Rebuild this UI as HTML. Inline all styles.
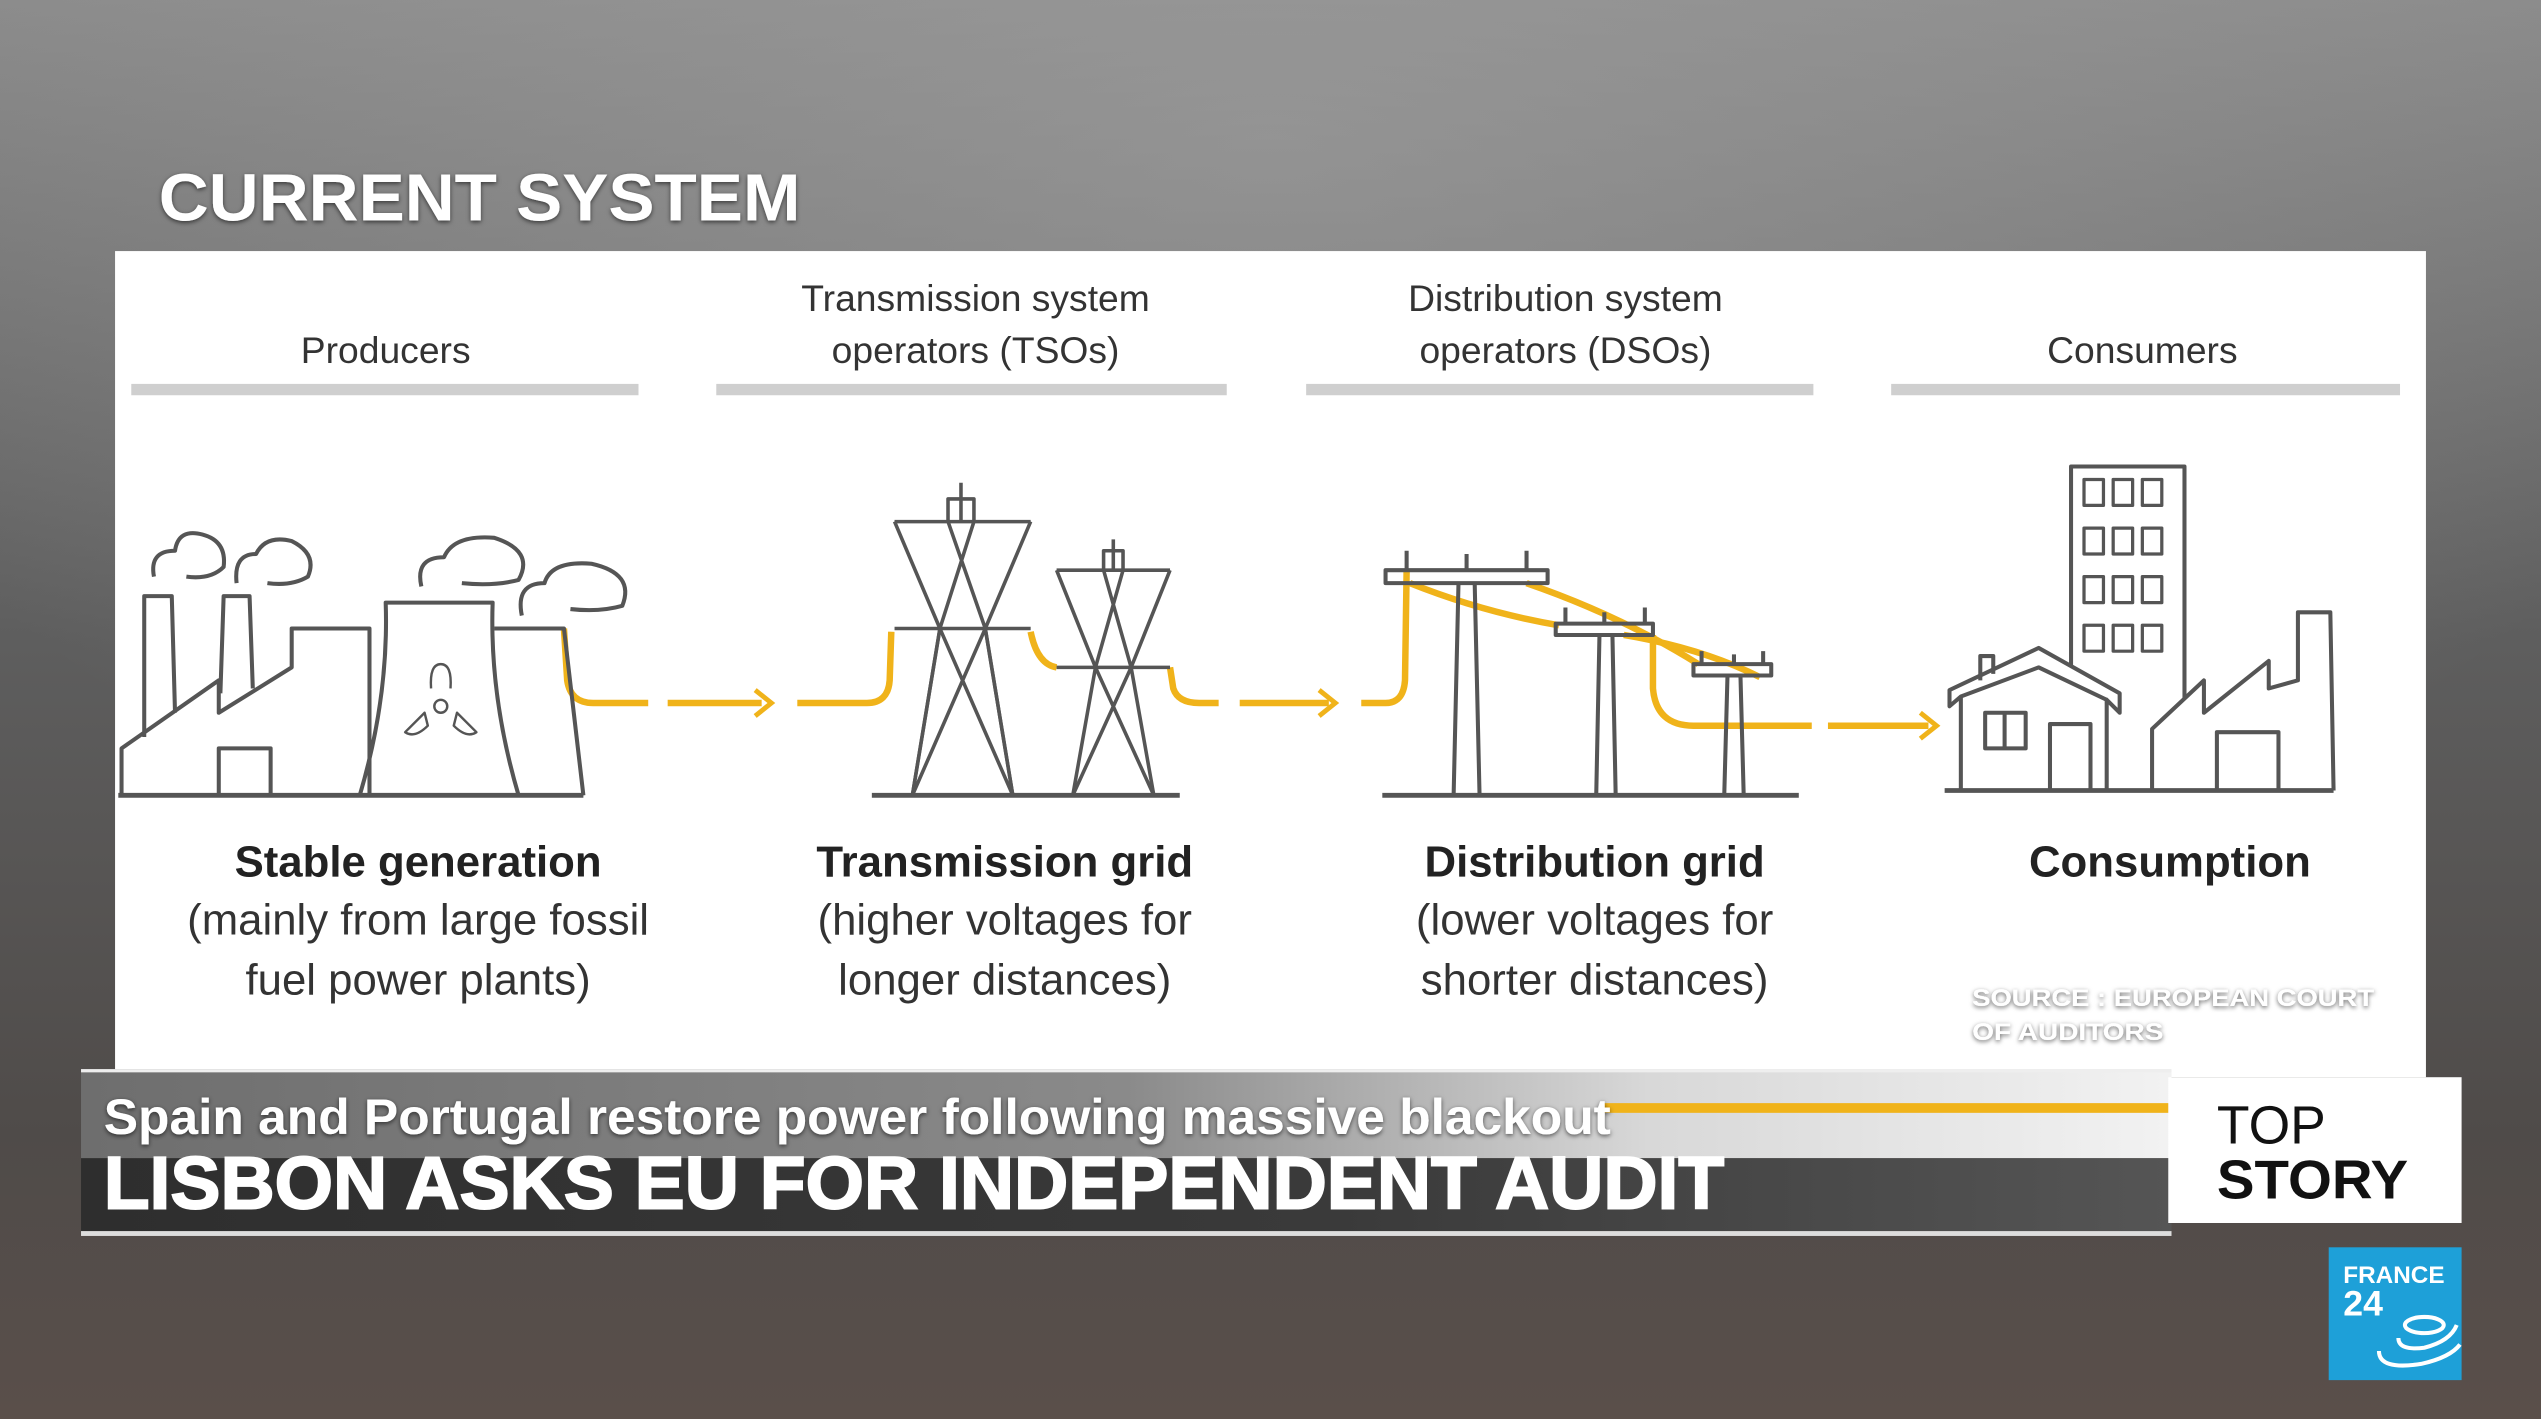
<!DOCTYPE html>
<html><head><meta charset="utf-8"><style>
html,body{margin:0;padding:0;width:2541px;height:1419px;overflow:hidden;background:#666}
svg{display:block}
</style></head><body>
<svg width="2541" height="1419" viewBox="0 0 1568 876" preserveAspectRatio="none" xmlns="http://www.w3.org/2000/svg" font-family="Liberation Sans, sans-serif">
<defs>
<linearGradient id="bg" x1="0" y1="0" x2="0" y2="1">
<stop offset="0" stop-color="#8a8a8a"/><stop offset="0.45" stop-color="#5e5e5e"/><stop offset="0.8" stop-color="#4f4b49"/><stop offset="1" stop-color="#5a4f4a"/>
</linearGradient>
<radialGradient id="glow" cx="0.5" cy="0.1" r="0.6"><stop offset="0" stop-color="#a0a0a0" stop-opacity="0.6"/><stop offset="1" stop-color="#a0a0a0" stop-opacity="0"/></radialGradient>
<linearGradient id="band1" x1="0" y1="0" x2="1" y2="0">
<stop offset="0" stop-color="#6e6e6e"/><stop offset="0.5" stop-color="#8a8a8a"/><stop offset="0.75" stop-color="#d8d8d8"/><stop offset="1" stop-color="#f2f2f2"/>
</linearGradient>
<linearGradient id="band2" x1="0" y1="0" x2="1" y2="0">
<stop offset="0" stop-color="#2e2e2e"/><stop offset="0.6" stop-color="#3a3a3a"/><stop offset="1" stop-color="#555"/>
</linearGradient>
<filter id="sh"><feDropShadow dx="0" dy="1" stdDeviation="1.5" flood-color="#000" flood-opacity="0.6"/></filter>
</defs>
<rect width="1568" height="876" fill="url(#bg)"/>
<rect width="1568" height="876" fill="url(#glow)"/>

<text x="98" y="136" font-size="41" font-weight="bold" fill="#fff" filter="url(#sh)" textLength="396" lengthAdjust="spacingAndGlyphs">CURRENT SYSTEM</text>

<rect x="71" y="155" width="1426" height="510" fill="#fff"/>

<g font-size="23" fill="#333" text-anchor="middle">
<text x="238" y="224">Producers</text>
<text x="602" y="192">Transmission system</text>
<text x="602" y="224">operators (TSOs)</text>
<text x="966" y="192">Distribution system</text>
<text x="966" y="224">operators (DSOs)</text>
<text x="1322" y="224">Consumers</text>
</g>
<g fill="#cfcfcf">
<rect x="81" y="237" width="313" height="7"/><rect x="442" y="237" width="315" height="7"/>
<rect x="806" y="237" width="313" height="7"/><rect x="1167" y="237" width="314" height="7"/>
</g>

<g fill="none" stroke="#f0b31a" stroke-width="4">
<path d="M348 388 L350 420 Q352 434 366 434 L400 434" />
<path d="M412 434 L470 434"/><path d="M466 426 L476 434 L466 442" stroke-width="3"/>
<path d="M492 434 L535 434 Q548 434 549 420 L550 390"/>
<path d="M636 390 Q640 410 652 412"/>
<path d="M722 412 L724 425 Q727 434 740 434 L752 434"/>
<path d="M765 434 L820 434"/><path d="M814 426 L824 434 L814 442" stroke-width="3"/>
<path d="M840 434 L855 434 Q866 434 867 420 L868 352"/>
<path d="M870 360 Q915 378 962 386"/>
<path d="M942 360 Q1000 380 1048 410"/>
<path d="M1002 392 Q1050 400 1086 418"/>
<path d="M1020 392 L1020 425 Q1022 448 1045 448 L1118 448"/>
<path d="M1128 448 L1190 448"/><path d="M1185 440 L1195 448 L1185 456" stroke-width="3"/>
</g>

<g fill="none" stroke="#555" stroke-width="2.5" stroke-linejoin="round">
<path d="M75 491 L75 462 L135 420 L135 440 L180 412 L180 388 L228 388 L228 491"/>
<path d="M89 455 L89 368 L106 368 L108 440"/>
<path d="M136 428 L138 368 L154 368 L156 425"/>
<rect x="135" y="462" width="32" height="29"/>
<path d="M222 491 Q240 430 238 372 L304 372 Q302 430 320 491"/>
<path d="M305 388 L348 388 L360 491"/>
<path d="M73 491 L360 491" stroke-width="3"/>
<path d="M95 356 Q92 340 108 340 Q110 326 125 330 Q140 334 138 350 Q130 358 115 356"/>
<path d="M146 360 Q144 342 158 342 Q164 330 180 334 Q196 342 190 356 Q180 362 165 360"/>
<path d="M260 362 Q256 344 274 344 Q280 330 305 332 Q330 340 320 358 Q305 362 285 360"/>
<path d="M322 380 Q318 360 336 360 Q340 346 365 348 Q392 354 384 374 Q370 378 352 376"/>
<g stroke-width="1.5"><circle cx="272" cy="436" r="4"/><path d="M266 425 Q265 410 272 410 Q279 410 278 425"/><path d="M262 440 L250 452 Q256 456 264 448Z"/><path d="M282 440 L294 452 Q288 456 280 448Z"/></g>
<g stroke-width="2.2">
<path d="M593 298 L593 322 M585 322 L585 308 L601 308 L601 322"/>
<path d="M552 322 L636 322 M552 388 L636 388"/>
<path d="M552 322 L580 388 L563 491 M636 322 L608 388 L625 491"/>
<path d="M585 322 L608 388 L563 491 M601 322 L580 388 L625 491"/>
<path d="M563 491 L580 388 M625 491 L608 388"/>
<path d="M687 333 L687 352 M681 352 L681 340 L693 340 L693 352"/>
<path d="M652 352 L722 352 M652 412 L722 412"/>
<path d="M652 352 L676 412 L662 491 M722 352 L698 412 L712 491"/>
<path d="M681 352 L698 412 L662 491 M693 352 L676 412 L712 491"/>
</g>
<path d="M538 491 L728 491" stroke-width="3"/>
<rect x="855" y="352" width="100" height="8"/><path d="M900 360 L897 491 M910 360 L913 491 M868 352 L868 340 M942 352 L942 340 M905 352 L905 342"/>
<rect x="960" y="385" width="60" height="7"/><path d="M987 392 L985 491 M995 392 L997 491 M966 385 L966 375 M1015 385 L1015 375 M990 385 L990 378"/>
<rect x="1045" y="410" width="48" height="7"/><path d="M1066 417 L1064 491 M1074 417 L1076 491 M1050 410 L1050 402 M1088 410 L1088 402 M1070 410 L1070 404"/>
<path d="M853 491 L1110 491" stroke-width="3"/>
<rect x="1278" y="288" width="70" height="200"/>
<g stroke-width="2"><rect x="1286" y="296" width="12" height="16"/><rect x="1304" y="296" width="12" height="16"/><rect x="1322" y="296" width="12" height="16"/>
<rect x="1286" y="326" width="12" height="16"/><rect x="1304" y="326" width="12" height="16"/><rect x="1322" y="326" width="12" height="16"/>
<rect x="1286" y="356" width="12" height="16"/><rect x="1304" y="356" width="12" height="16"/><rect x="1322" y="356" width="12" height="16"/>
<rect x="1286" y="386" width="12" height="16"/><rect x="1304" y="386" width="12" height="16"/><rect x="1322" y="386" width="12" height="16"/></g>
<path d="M1210 488 L1210 430 L1203 436 L1203 426 L1258 400 L1308 428 L1308 440 L1300 432 L1300 488" fill="#fff"/>
<path d="M1210 430 L1258 412 L1300 432"/>
<path d="M1222 420 L1222 405 L1230 405 L1230 416"/>
<rect x="1225" y="440" width="25" height="22"/><path d="M1237 440 L1237 462"/>
<rect x="1265" y="447" width="25" height="41"/>
<path d="M1328 488 L1328 450 L1360 420 L1360 440 L1400 408 L1400 425 L1418 420 L1418 378 L1438 378 L1440 488" fill="#fff"/>
<rect x="1368" y="452" width="38" height="36"/>
<path d="M1200 488 L1440 488" stroke-width="3"/>
</g>

<g fill="#222" text-anchor="middle">
<text x="258" y="541" font-size="27" font-weight="bold">Stable generation</text>
<text x="620" y="541" font-size="27" font-weight="bold">Transmission grid</text>
<text x="984" y="541" font-size="27" font-weight="bold">Distribution grid</text>
<text x="1339" y="541" font-size="27" font-weight="bold">Consumption</text>
</g>
<g fill="#333" text-anchor="middle" font-size="27">
<text x="258" y="577">(mainly from large fossil</text>
<text x="258" y="614">fuel power plants)</text>
<text x="620" y="577">(higher voltages for</text>
<text x="620" y="614">longer distances)</text>
<text x="984" y="577">(lower voltages for</text>
<text x="984" y="614">shorter distances)</text>
</g>
<g fill="#fff" font-size="15" font-weight="bold" filter="url(#sh)">
<text x="1217" y="621" textLength="248" lengthAdjust="spacingAndGlyphs">SOURCE : EUROPEAN COURT</text>
<text x="1217" y="642" textLength="118" lengthAdjust="spacingAndGlyphs">OF AUDITORS</text>
</g>

<rect x="50" y="660" width="1290" height="55" fill="url(#band1)"/>
<rect x="50" y="660" width="1290" height="2" fill="#eee"/>
<rect x="990" y="681" width="350" height="6" fill="#f0b31a"/>
<rect x="50" y="715" width="1290" height="45" fill="url(#band2)"/>
<rect x="50" y="760" width="1290" height="3" fill="#ddd"/>
<text x="64" y="700" font-size="31" font-weight="bold" fill="#fff" filter="url(#sh)" textLength="930" lengthAdjust="spacingAndGlyphs">Spain and Portugal restore power following massive blackout</text>
<text x="64" y="746" font-size="46" font-weight="bold" fill="#fff" stroke="#fff" stroke-width="1.2" textLength="1000" lengthAdjust="spacingAndGlyphs">LISBON ASKS EU FOR INDEPENDENT AUDIT</text>

<rect x="1338" y="665" width="181" height="90" fill="#fff"/>
<text x="1368" y="706" font-size="33" fill="#111">TOP</text>
<text x="1368" y="740" font-size="34" font-weight="bold" fill="#111" textLength="118" lengthAdjust="spacingAndGlyphs">STORY</text>

<rect x="1437" y="770" width="82" height="82" fill="#1ea0d8"/>
<text x="1446" y="792" font-size="15" font-weight="bold" fill="#fff">FRANCE</text>
<text x="1446" y="812" font-size="22" font-weight="bold" fill="#fff">24</text>
<g fill="none" stroke="#fff" stroke-width="2.5">
<ellipse cx="1496" cy="818" rx="12" ry="5"/>
<path d="M1480 826 Q1480 834 1496 832 Q1512 828 1516 818"/>
<path d="M1468 834 Q1468 846 1494 842 Q1512 838 1518 830"/>
</g>
</svg>
</body></html>
